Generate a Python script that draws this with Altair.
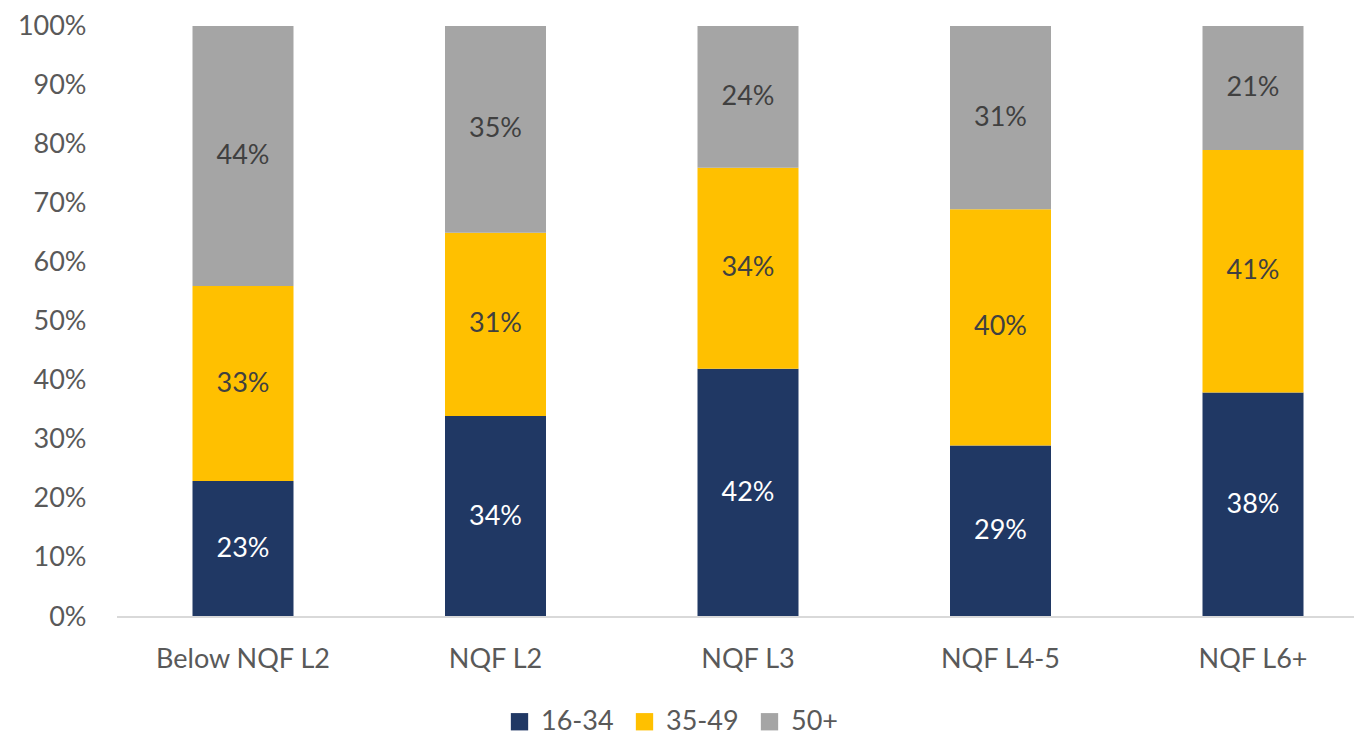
import altair as alt
import pandas as pd

categories = ["Below NQF L2", "NQF L2", "NQF L3", "NQF L4-5", "NQF L6+"]
series = ["16-34", "35-49", "50+"]
v_16_34 = [23, 34, 42, 29, 38]
v_35_49 = [33, 31, 34, 40, 41]
v_50p = [44, 35, 24, 31, 21]
colors = ["#203864", "#FFC000", "#A5A5A5"]

rows = []
for i, c in enumerate(categories):
    for j, (s, vals) in enumerate(zip(series, [v_16_34, v_35_49, v_50p])):
        rows.append({"cat": c, "series": s, "order": j, "value": vals[i] / 100})
df = pd.DataFrame(rows)

FONT = "Lato"
FS = 27
W, H = 1212, 591

base = alt.Chart(df)

bars = base.mark_bar().encode(
    x=alt.X("cat:N", sort=categories, title=None,
            scale=alt.Scale(paddingInner=0.6, paddingOuter=0.2),
            axis=alt.Axis(labelAngle=0, domain=False, ticks=False, labelPadding=29,
                          labelFontSize=FS, labelColor="#595959", labelFont=FONT)),
    y=alt.Y("value:Q", stack="zero", title=None,
            scale=alt.Scale(domain=[0, 1]),
            axis=alt.Axis(format=".0%", values=[i / 10 for i in range(11)], grid=False,
                          domain=False, ticks=False, labelPadding=56,
                          labelFontSize=FS, labelColor="#595959", labelFont=FONT)),
    color=alt.Color("series:N", sort=series, title=None,
                    scale=alt.Scale(domain=series, range=colors),
                    legend=alt.Legend(orient="none", legendX=364, legendY=682, direction="horizontal",
                                      symbolType="square", symbolSize=300, symbolStrokeWidth=0,
                                      labelFontSize=FS, labelColor="#595959", labelFont=FONT,
                                      columnPadding=17, labelOffset=8)),
    order=alt.Order("order:Q", sort="ascending"),
)

labels = base.transform_stack(
    stack="value", groupby=["cat"], as_=["y0", "y1"], sort=[alt.SortField("order", "ascending")]
).transform_calculate(
    mid="(datum.y0 + datum.y1) / 2"
).mark_text(font=FONT, fontSize=FS, baseline="middle").encode(
    x=alt.X("cat:N", sort=categories),
    y=alt.Y("mid:Q"),
    text=alt.Text("value:Q", format=".0%"),
    color=alt.condition(alt.datum.series == "16-34", alt.value("#FFFFFF"), alt.value("#404040")),
)

domain_rule = alt.Chart(pd.DataFrame({"a": [0]})).mark_rule(color="#D9D9D9", strokeWidth=2).encode(
    x=alt.value(-25), x2=alt.value(W + 20), y=alt.value(H)
)

chart = alt.layer(bars, labels, domain_rule).properties(
    width=W, height=H,
    autosize=alt.AutoSizeParams(type="none"),
    padding={"left": 134, "top": 18, "right": 0, "bottom": 118},
).configure_view(stroke=None)

chart.save("out.html", embed_options={"renderer": "svg", "actions": False})
